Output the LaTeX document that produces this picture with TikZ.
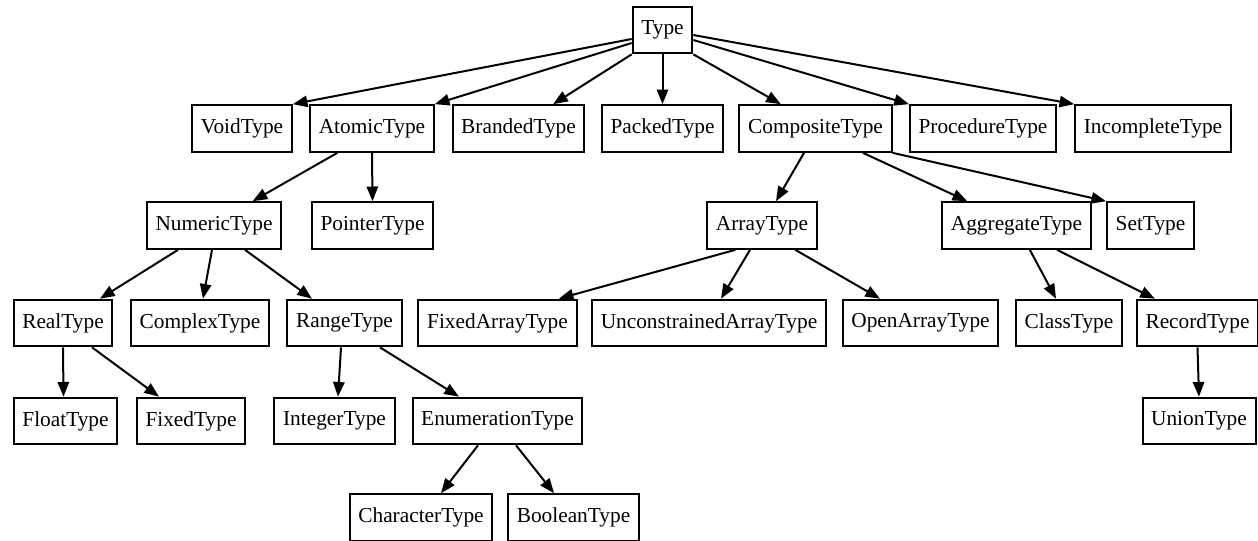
\documentclass[tikz,border=0pt]{standalone}
\usepackage{fontspec}
\setmainfont{Liberation Serif}
\usetikzlibrary{arrows.meta}
\begin{document}
\begin{tikzpicture}[x=0.75pt,y=-0.75pt,
        typebox/.style={draw, line width=1.5pt, minimum height=35pt, inner xsep=6.5pt, font=\fontsize{16}{19}\selectfont},
        isa/.style={-{Triangle[length=11pt,width=8.5pt]}, line width=1.5pt}]
        \useasboundingbox (0,0) rectangle (1258,540);

        % Root
        \node[typebox] (type) at (662.5,30) {Type};

        % Second row
        \node[typebox] (void) at (242,128.5) {VoidType};
        \node[typebox] (atomic) at (372,128.5) {AtomicType};
        \node[typebox] (branded) at (518.5,128.5) {BrandedType};
        \node[typebox] (packed) at (662.5,128.5) {PackedType};
        \node[typebox] (composite) at (815.5,128.5) {CompositeType};
        \node[typebox] (procedure) at (983,128.5) {ProcedureType};
        \node[typebox] (incomplete) at (1153,128.5) {IncompleteType};

        % Third row
        \node[typebox] (numeric) at (214,225.5) {NumericType};
        \node[typebox] (pointer) at (372.5,225.5) {PointerType};
        \node[typebox] (array) at (762,225.5) {ArrayType};
        \node[typebox] (aggregate) at (1016.5,225.5) {AggregateType};
        \node[typebox] (set) at (1150.5,225.5) {SetType};

        % Fourth row
        \node[typebox] (real) at (63,323) {RealType};
        \node[typebox] (complex) at (200,323) {ComplexType};
        \node[typebox] (range) at (344.5,323) {RangeType};
        \node[typebox] (fixedarray) at (497.5,323) {FixedArrayType};
        \node[typebox] (unconstrained) at (709,323) {UnconstrainedArrayType};
        \node[typebox] (openarray) at (920.5,323) {OpenArrayType};
        \node[typebox] (class) at (1069,323) {ClassType};
        \node[typebox] (record) at (1197.5,323) {RecordType};

        % Fifth row
        \node[typebox] (float) at (65.5,421) {FloatType};
        \node[typebox] (fixed) at (191,421) {FixedType};
        \node[typebox] (integer) at (334.5,421) {IntegerType};
        \node[typebox] (enumeration) at (497.5,421) {EnumerationType};
        \node[typebox] (union) at (1199,421) {UnionType};

        % Last row
        \node[typebox] (character) at (421,517.5) {CharacterType};
        \node[typebox] (boolean) at (573.5,517.5) {BooleanType};

        % Edges from Type
        \draw[isa] ([yshift=-6.75pt]type.west) -- (void.north east);
        \draw[isa] ([yshift=-9.75pt]type.west) -- (atomic.north east);
        \draw[isa] (type.south west) -- ([xshift=26pt]branded.north);
        \draw[isa] (type.south) -- (packed.north);
        \draw[isa] (type.south east) -- ([xshift=-26pt]composite.north);
        \draw[isa] ([yshift=-7.5pt]type.east) -- (procedure.north west);
        \draw[isa] ([yshift=-3.75pt]type.east) -- (incomplete.north west);

        % Edges from AtomicType and CompositeType
        \draw[isa] ([xshift=-26pt]atomic.south) -- ([xshift=29pt]numeric.north);
        \draw[isa] (atomic.south) -- (pointer.north);
        \draw[isa] ([xshift=-8.6pt]composite.south) -- ([xshift=10.5pt]array.north);
        \draw[isa] ([xshift=35.6pt]composite.south) -- ([xshift=-37pt]aggregate.north);
        \draw[isa] (composite.south east) -- (set.north west);

        % Edges from the third row
        \draw[isa] ([xshift=-27pt]numeric.south) -- ([xshift=27.75pt]real.north);
        \draw[isa] ([xshift=-1.5pt]numeric.south) -- ([xshift=2.25pt]complex.north);
        \draw[isa] ([xshift=23.25pt]numeric.south) -- ([xshift=-24.4pt]range.north);
        \draw[isa] ([xshift=-20pt]array.south) -- ([xshift=46pt]fixedarray.north);
        \draw[isa] ([xshift=-9pt]array.south) -- ([xshift=9pt]unconstrained.north);
        \draw[isa] ([xshift=25pt]array.south) -- ([xshift=-30.4pt]openarray.north);
        \draw[isa] ([xshift=10pt]aggregate.south) -- ([xshift=-9.75pt]class.north);
        \draw[isa] ([xshift=30.4pt]aggregate.south) -- ([xshift=-32pt]record.north);

        % Edges from the fourth row
        \draw[isa] (real.south) -- ([xshift=-1.5pt]float.north);
        \draw[isa] ([xshift=21.75pt]real.south) -- ([xshift=-24pt]fixed.north);
        \draw[isa] ([xshift=-2.6pt]range.south) -- ([xshift=2.6pt]integer.north);
        \draw[isa] ([xshift=26.6pt]range.south) -- ([xshift=-28.9pt]enumeration.north);
        \draw[isa] (record.south) -- (union.north);

        % Edges from EnumerationType
        \draw[isa] ([xshift=-14.6pt]enumeration.south) -- ([xshift=15pt]character.north);
        \draw[isa] ([xshift=13.9pt]enumeration.south) -- ([xshift=-14.6pt]boolean.north);

        \end{tikzpicture}
\end{document}
